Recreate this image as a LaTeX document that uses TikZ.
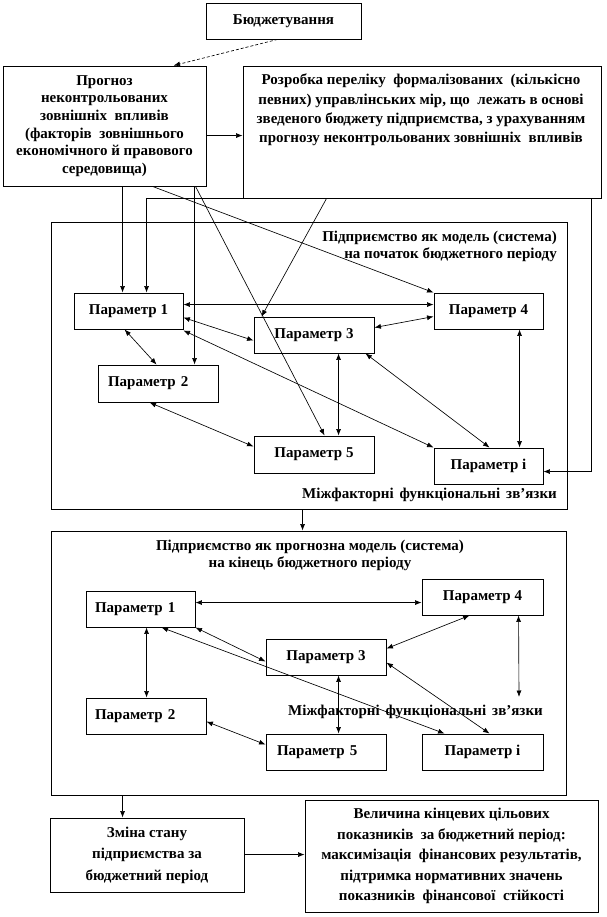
\documentclass[tikz,border=0pt]{standalone}
\usepackage{fontspec}
\setmainfont{Liberation Serif}
\usetikzlibrary{arrows.meta,calc}
\begin{document}
\begin{tikzpicture}[x=1pt,y=-1pt,
  txt/.style={font=\fontsize{15}{17.5}\selectfont\bfseries, inner sep=0pt},
  box/.style={draw, line width=0.9pt, inner sep=0pt, txt, align=center},
  frame/.style={draw, line width=0.9pt, inner sep=0pt},
  con/.style={line width=0.65pt},
  sar/.style={con, -{Latex[length=6.5pt,width=5pt]}},
  dar/.style={con, {Latex[length=6.5pt,width=5pt]}-{Latex[length=6.5pt,width=5pt]}},
  lbox/.style={box, align=left, inner xsep=#1}
]
\useasboundingbox (0,0) rectangle (606,917);

% top boxes
\node[box, minimum width=155pt, minimum height=36pt] (bud) at (283.5,21) {Бюджетування};
\node[box, minimum width=203pt, minimum height=120pt, font=\fontsize{15}{17.7}\selectfont\bfseries] (prog) at (104.5,126)
  {Прогноз\\неконтрольованих\\зовнішніх\ \ впливів\\(факторів\ \ зовнішнього\\економічного й правового\\середовища)};
\node[frame, minimum width=358pt, minimum height=132pt] (rozr) at (422,132) {};
\node[txt, align=center, font=\fontsize{15}{19.3}\selectfont\bfseries] (rozrt) at (421,110)
  {Розробка переліку\ \ формалізованих\ \ (кількісно\\певних) управлінських мір, що\ \ лежать в основі\\зведеного бюджету підприємства, з урахуванням\\прогнозу неконтрольованих зовнішніх\ \ впливів};

% model box 1
\node[frame, minimum width=516pt, minimum height=287pt] (box1) at (309,365.5) {};
\node[txt, align=right, anchor=east] (t1) at (557,246.5) {Підприємство як модель (система)\\на початок бюджетного періоду};
\node[txt, anchor=east] (f1) at (557,495) {Міжфакторні\hspace{6pt}функціональні\hspace{6pt}зв'язки};
\node[box, minimum width=109pt, minimum height=36pt] (A1) at (128.5,311) {Параметр 1};
\node[lbox=10pt, text width=100pt, minimum height=37pt] (A2) at (158,383.5) {Параметр 2};
\node[box, minimum width=120pt, minimum height=36pt] (A3) at (314,335) {Параметр 3};
\node[box, minimum width=109pt, minimum height=36pt] (A4) at (488.5,311) {Параметр 4};
\node[box, minimum width=120pt, minimum height=37pt] (A5) at (314,454.5) {Параметр 5};
\node[box, minimum width=109pt, minimum height=36pt] (Ai) at (488.5,466) {Параметр і};

% model box 2
\node[frame, minimum width=515pt, minimum height=264pt] (box2) at (308.5,663) {};
\node[txt, align=center] (t2) at (310,555.5) {Підприємство як прогнозна модель (система)\\на кінець бюджетного періоду};
\node[txt, anchor=east] (f2) at (543,712) {Міжфакторні\hspace{6pt}функціональні\hspace{6pt}зв'язки};
\node[lbox=9pt, text width=91pt, minimum height=36pt] (B1) at (140.5,609) {Параметр 1};
\node[lbox=9pt, text width=102pt, minimum height=36pt] (B2) at (146,716) {Параметр 2};
\node[box, minimum width=120pt, minimum height=36pt] (B3) at (326,657) {Параметр 3};
\node[box, minimum width=121pt, minimum height=36pt] (B4) at (482.5,597) {Параметр 4};
\node[lbox=11pt, text width=98pt, minimum height=36pt] (B5) at (326,752) {Параметр 5};
\node[box, minimum width=121pt, minimum height=36pt] (Bi) at (482.5,752) {Параметр і};
\coordinate (c4) at (519,697);

% bottom boxes
\node[box, minimum width=194pt, minimum height=74pt, font=\fontsize{15}{21.5}\selectfont\bfseries] (zm) at (147,855)
  {Зміна стану\\підприємства за\\бюджетний період};
\node[box, minimum width=293pt, minimum height=112pt, font=\fontsize{15}{20.5}\selectfont\bfseries] (vel) at (451.5,856)
  {Величина кінцевих цільових\\показників\ \ за бюджетний період:\\максимізація\ \ фінансових результатів,\\підтримка нормативних значень\\показників\ \ фінансової\ \ стійкості};

% top connectors
\draw[sar, densely dashed] ($(bud.south west)+(72,0)$) -- ($(prog.north west)+(171,0)$);
\draw[sar] ($(prog.north east)+(0,70)$) -- ($(rozr.north west)+(0,70)$);
\draw[sar] ($(prog.south west)+(120,0)$) -- ($(A1.north west)+(49,0)$);
\draw[sar] (rozr.south west) -| ($(A1.north west)+(73,0)$);
\draw[sar] ($(prog.south west)+(192,0)$) -- ($(A2.north west)+(97,0)$);
\draw[sar] ($(prog.south west)+(193,0)$) -- ($(A5.north west)+(71,0)$);
\draw[sar] ($(prog.south west)+(150,0)$) -- (A4.north west);
\draw[sar] ($(rozr.south west)+(84,0)$) -- ($(A3.north west)+(8,0)$);
\draw[sar] ($(rozr.south east)+(-10,0)$) |- ($(Ai.north east)+(0,24)$);

% box 1 connectors
\draw[dar] ($(A1.north east)+(0,12)$) -- ($(A4.north west)+(0,12)$);
\draw[dar] ($(A1.north east)+(0,25)$) -- ($(A3.north west)+(0,24)$);
\draw[dar] ($(A1.south east)+(0,1)$) -- (Ai.north west);
\draw[dar] ($(A1.south west)+(51,0)$) -- ($(A2.north west)+(59,0)$);
\draw[dar] ($(A2.south west)+(52,0)$) -- ($(A5.north west)+(0,11)$);
\draw[dar] ($(A3.south west)+(85,0)$) -- ($(A5.north west)+(85,0)$);
\draw[dar] ($(A3.south east)+(-9,0)$) -- ($(Ai.north west)+(56,0)$);
\draw[dar] ($(A3.north east)+(0,11)$) -- ($(A4.north west)+(0,24)$);
\draw[dar] ($(A4.south west)+(86,0)$) -- ($(Ai.north west)+(86,0)$);
\draw[sar] ($(box1.south west)+(252,0)$) -- ($(box2.north west)+(252,0)$);

% box 2 connectors
\draw[dar] ($(B1.north east)+(0,12)$) -- ($(B4.north west)+(0,24)$);
\draw[dar] ($(B1.south west)+(61,0)$) -- ($(B2.north west)+(61,0)$);
\draw[dar] (B1.south east) -- ($(B3.north west)+(0,23)$);
\draw[dar] ($(B1.south west)+(76,0)$) -- ($(Bi.north west)+(23,0)$);
\draw[dar] ($(B2.north east)+(0,24)$) -- ($(B5.north west)+(0,11)$);
\draw[dar] ($(B3.north east)+(0,10)$) -- ($(B4.south west)+(48,0)$);
\draw[dar] ($(B3.north east)+(0,24)$) -- ($(Bi.north west)+(68,0)$);
\draw[dar] ($(B3.south west)+(73,0)$) -- ($(B5.north west)+(73,0)$);
\draw[dar] ($(B4.south west)+(97,0)$) -- (c4);
\draw[sar] ($(box2.south west)+(72,0)$) -- ($(zm.north west)+(73,0)$);
\draw[sar] ($(zm.north east)+(0,37)$) -- ($(vel.north west)+(0,55)$);
\end{tikzpicture}
\end{document}
